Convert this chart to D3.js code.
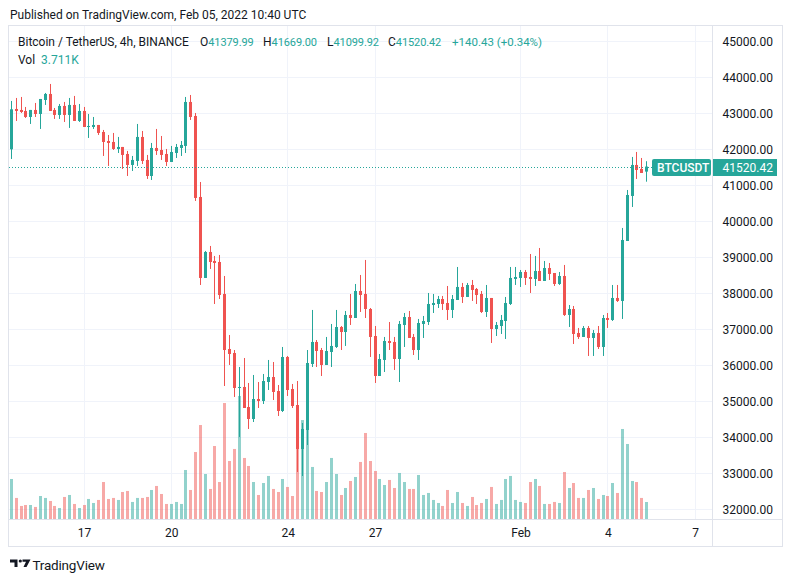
<!DOCTYPE html>
<html><head><meta charset="utf-8">
<script src="https://cdn.jsdelivr.net/npm/d3@7"></script>
<style>
html,body{margin:0;padding:0;background:#fff;}
svg{display:block;font-family:Roboto,"Noto Sans",sans-serif;}
</style></head><body>
<svg id="chart" width="793" height="582"></svg>
<script>
// ---- data (BTCUSDT 4h, Binance) ----
const startTime = "2022-01-14T12:00:00Z";
const open = [
42000,43120,43093,43065,42898,43093,42981,43370,43537,43093,
42954,43204,42954,43232,42787,43065,42620,42620,42676,42481,
42231,42204,42009,42065,41870,41565,41676,42343,41704,41259,
42037,41981,41870,41648,41898,42037,42093,43315,42926,40676,
38426,39148,38898,38870,37981,36453,36342,35370,35398,34842,
34509,35064,35009,35536,35675,35286,34731,36231,35342,34897,
33675,34203,36036,36648,36425,36009,36370,36509,37064,36925,
37398,37314,38064,37981,37564,36814,35703,36148,36675,36648,
36175,37120,37342,36787,36425,37148,37203,37675,37703,37842,
37731,37537,37814,38176,37898,38231,38120,37981,37481,37870,
37009,37092,37231,37703,38398,38426,38592,38453,38398,38620,
38342,38703,38564,38259,38481,37398,37564,36898,36787,37037,
36759,36898,36509,37314,37259,37870,37787,39453,40704,41565,
41454,41379.99];
const high = [
43343,43426,43454,43176,43093,43287,43398,43565,43815,43148,
43259,43315,43426,43482,43259,43176,42981,42898,42676,42537,
42398,42454,42343,42065,41954,41815,42704,42509,41843,42176,
42565,42370,42009,42093,42148,42231,43454,43509,43009,41092,
39176,39315,39037,39065,38481,36842,36425,35953,36203,35509,
35731,35536,35759,36148,36092,35453,36509,36259,35481,35564,
34397,36425,37537,36703,36481,36787,37148,37537,37092,37509,
37981,38259,38509,38926,37592,37092,36314,36787,37203,36787,
37231,37453,37509,36870,37287,37370,38009,37981,37926,37926,
38203,37953,38731,38287,38287,38370,38148,38064,38231,37870,
37203,37398,37898,38731,38731,38648,38648,39092,39037,39259,
38898,38842,38564,38592,38787,37675,37648,37037,37092,37092,
36981,37092,37398,37453,38231,38231,39815,40870,41787,41926,
41759,41669.00];
const low = [
41731,42787,43009,42870,42704,42898,42565,43232,43065,42843,
42843,42759,42593,42787,42759,42620,42315,42565,42398,41815,
41537,41981,41898,41454,41259,41398,41537,41592,41176,41148,
41843,41704,41537,41648,41759,41815,41898,42815,40565,38231,
38426,38676,37703,37842,35425,36009,35120,34009,34814,34231,
34425,34814,34925,35314,35036,34592,34703,35148,34814,33036,
32925,33786,35953,35953,35703,36009,35953,36481,36425,36537,
37120,37314,37481,37314,36231,35509,35703,35814,36425,35870,
35536,36509,36759,36286,36148,36759,37120,37453,37592,37537,
37259,37314,37814,37731,37898,37787,37703,37453,37342,36620,
36814,36870,36731,37675,38231,38176,38231,38009,38203,38342,
38342,38370,38203,38231,37370,37064,36592,36731,36787,36259,
36259,36453,36259,37037,37231,37759,37287,39453,40398,41176,
41342,41099.92];
const close = [
43111,43065,43037,42898,43093,42981,43398,43537,43065,42954,
43204,42954,43232,42787,43065,42620,42648,42676,42454,42204,
42176,42009,42065,41843,41565,41704,42343,41676,41259,42037,
41954,41843,41648,41926,42065,42120,43315,42898,40648,38426,
39148,38870,38842,37953,36425,36314,35370,35398,34814,34509,
35064,35009,35564,35675,35259,34731,36231,35314,34870,33675,
34231,36064,36648,36398,36009,36398,36537,37064,36925,37398,
37314,38064,37953,37564,36787,35703,36175,36675,36620,36175,
37148,37342,36759,36425,37175,37231,37703,37731,37842,37703,
37537,37842,38176,37898,38231,38092,37953,37481,37870,37009,
37120,37259,37731,38426,38453,38592,38426,38398,38620,38342,
38703,38537,38259,38481,37398,37564,36870,36787,37037,36759,
36898,36509,37314,37259,37870,37787,39481,40731,41565,41426,
41342,41520.42];
const volume = [
8.65,4.58,2.86,3.07,3.07,2.65,5.00,4.58,3.93,2.86,
2.43,4.79,5.22,3.29,2.43,3.07,4.36,3.50,4.15,8.00,
4.36,4.58,4.15,5.86,6.08,3.72,4.58,4.58,4.79,6.29,
7.15,5.43,3.29,3.29,3.72,3.29,10.58,6.29,14.44,20.23,
9.72,6.51,15.73,8.00,24.95,12.51,15.09,26.46,13.16,11.44,
8.00,5.22,7.79,9.30,6.51,5.86,8.65,6.94,5.00,15.09,
21.30,20.88,11.23,6.08,5.86,8.00,13.16,9.72,5.22,6.72,
8.22,9.08,12.30,18.52,12.51,10.37,8.65,7.36,8.44,6.72,
9.94,8.00,6.51,6.51,9.51,5.22,5.65,4.15,3.50,2.86,
6.29,3.50,5.86,3.50,2.86,4.79,3.07,3.50,4.36,6.94,
3.29,4.15,8.65,9.30,4.15,3.72,3.50,8.00,8.65,7.15,
3.29,3.29,3.72,3.50,10.15,6.72,7.79,4.58,4.58,6.29,
6.72,4.36,5.22,5.00,7.79,5.65,19.38,16.16,8.22,8.00,
4.58,3.711];
const timeTicks = ["2022-01-17T00:00:00Z","2022-01-20T00:00:00Z","2022-01-24T00:00:00Z","2022-01-27T00:00:00Z","2022-02-01T00:00:00Z","2022-02-04T00:00:00Z","2022-02-07T00:00:00Z"];
const timeTickLabels = ["17","20","24","27","Feb","4","7"];
const priceTicks = [32000,33000,34000,35000,36000,37000,38000,39000,40000,41000,42000,43000,44000,45000];
const publishedText = "Published on TradingView.com, Feb 05, 2022 10:40 UTC";
const titleText = "Bitcoin / TetherUS, 4h, BINANCE";
const symbolText = "BTCUSDT";
const changeText = "+140.43 (+0.34%)";
const volLabel = "3.711K";

// ---- drawing ----
const UP = "#26a69a", DOWN = "#ef5350";
const UPV = "rgba(38,166,154,0.5)", DOWNV = "rgba(239,83,80,0.5)";
const GRID = "#f0f3fa", BORDER = "#e0e3eb", TEXT = "#131722";
const svg = d3.select("#chart");
const H4 = 4 * 3600 * 1000;
const t0 = new Date(startTime).getTime();
const n = close.length;
const candles = close.map((c, i) => ({
  t: new Date(t0 + i * H4), o: open[i], h: high[i], l: low[i], c: c, v: volume[i]
}));

const plot = {left: 9, right: 712, top: 26, bottom: 519};
const x = d3.scaleTime().domain([new Date(t0), new Date(t0 + (n - 1) * H4)]).range([11.3, 646.65]);
const y = d3.scaleLinear().domain([32000, 45000]).range([509.3, 41.3]);
const yv = d3.scaleLinear().domain([0, 20]).range([519.3, 426.1]);

svg.append("defs").append("clipPath").attr("id", "clip")
  .append("rect").attr("x", plot.left).attr("y", plot.top)
  .attr("width", plot.right - plot.left).attr("height", plot.bottom - plot.top);

// publish line
svg.append("text").attr("x", 10).attr("y", 19).attr("font-size", 12).attr("fill", TEXT).text(publishedText);

// gridlines
const grid = svg.append("g").attr("clip-path", "url(#clip)").attr("shape-rendering", "crispEdges");
grid.selectAll("line.h").data(priceTicks).join("line")
  .attr("x1", plot.left).attr("x2", plot.right)
  .attr("y1", d => Math.round(y(d)) + 0.5).attr("y2", d => Math.round(y(d)) + 0.5)
  .attr("stroke", GRID);
const tickDates = timeTicks.map(s => new Date(s));
grid.selectAll("line.v").data(tickDates).join("line")
  .attr("x1", d => Math.floor(x(d)) + 0.5).attr("x2", d => Math.floor(x(d)) + 0.5)
  .attr("y1", plot.top).attr("y2", plot.bottom)
  .attr("stroke", GRID);

const gPlot = svg.append("g").attr("clip-path", "url(#clip)");
// volume
gPlot.selectAll("rect.vol").data(candles).join("rect")
  .attr("x", d => Math.floor(x(d.t)) - 1).attr("width", 3)
  .attr("y", d => yv(d.v)).attr("height", d => yv(0) - yv(d.v))
  .attr("fill", d => d.c >= d.o ? UPV : DOWNV);
// wicks
gPlot.selectAll("line.wick").data(candles).join("line")
  .attr("x1", d => Math.floor(x(d.t)) + 0.5).attr("x2", d => Math.floor(x(d.t)) + 0.5)
  .attr("y1", d => y(d.h)).attr("y2", d => y(d.l))
  .attr("stroke", d => d.c >= d.o ? UP : DOWN).attr("stroke-width", 1);
// bodies
gPlot.selectAll("rect.body").data(candles).join("rect")
  .attr("x", d => Math.floor(x(d.t)) - 1).attr("width", 3)
  .attr("y", d => y(Math.max(d.o, d.c)))
  .attr("height", d => Math.max(1, Math.abs(y(d.o) - y(d.c))))
  .attr("fill", d => d.c >= d.o ? UP : DOWN);

// last price dotted line
const last = candles[n - 1];
const yl = Math.round(y(last.c)) + 0.5;
svg.append("line").attr("x1", plot.left).attr("x2", 652).attr("y1", yl).attr("y2", yl)
  .attr("stroke", UP).attr("stroke-dasharray", "1,2").attr("shape-rendering", "crispEdges");

// frame and separators
svg.append("rect").attr("x", 8.5).attr("y", 25.5).attr("width", 774).attr("height", 521)
  .attr("fill", "none").attr("stroke", BORDER);
svg.append("line").attr("x1", 712.5).attr("x2", 712.5).attr("y1", 25.5).attr("y2", 546.5).attr("stroke", BORDER);
svg.append("line").attr("x1", 8.5).attr("x2", 782.5).attr("y1", 519.5).attr("y2", 519.5).attr("stroke", BORDER);

// price axis
const yAxis = d3.axisRight(y).tickValues(priceTicks).tickFormat(d3.format(".2f")).tickSize(0).tickPadding(10);
const gy = svg.append("g").attr("transform", "translate(712.5,0)").call(yAxis);
gy.select(".domain").remove();
gy.selectAll("text").attr("font-size", 12).attr("fill", TEXT).attr("font-family", "Roboto");

// time axis
const xAxis = d3.axisBottom(x).tickValues(tickDates).tickFormat((d, i) => timeTickLabels[i]).tickSize(0).tickPadding(8);
const gx = svg.append("g").attr("transform", "translate(0,520)").call(xAxis);
gx.select(".domain").remove();
gx.selectAll("text").attr("font-size", 12).attr("fill", TEXT).attr("font-family", "Roboto");

// last price labels
svg.append("rect").attr("x", 713).attr("y", yl - 8.5).attr("width", 64).attr("height", 17).attr("fill", UP);
svg.append("text").attr("x", 722.5).attr("y", yl).attr("dy", "0.35em").attr("font-size", 12)
  .attr("fill", "#fff").text(d3.format(".2f")(last.c));
svg.append("rect").attr("x", 652).attr("y", yl - 8.5).attr("width", 59).attr("height", 17).attr("rx", 2).attr("fill", UP);
svg.append("text").attr("x", 657).attr("y", yl).attr("dy", "0.35em").attr("font-size", 12)
  .attr("font-weight", 500).attr("fill", "#fff").text(symbolText);

// legend
const lg = svg.append("g").attr("font-size", 12);
lg.append("text").attr("x", 18).attr("y", 46).attr("fill", TEXT).text(titleText);
const f2 = d3.format(".2f");
const items = [["O", last.o, 200], ["H", last.h, 263], ["L", last.l, 327], ["C", last.c, 388]];
items.forEach(([k, v, px]) => {
  const t = lg.append("text").attr("x", px).attr("y", 46);
  t.append("tspan").attr("fill", TEXT).text(k);
  t.append("tspan").attr("fill", UP).attr("font-size", 11).attr("letter-spacing", "-0.1").text(f2(v));
});
lg.append("text").attr("x", 452).attr("y", 46).attr("fill", UP).attr("font-size", 11.5).text(changeText);
const vt = lg.append("text").attr("x", 18).attr("y", 64);
vt.append("tspan").attr("fill", TEXT).text("Vol");
vt.append("tspan").attr("x", 41).attr("fill", UP).text(volLabel);

// TradingView logo
const logo = svg.append("g").attr("fill", TEXT);
logo.append("path").attr("d", "M10,559.5 H17.5 V567 H14.5 V562.5 H10 Z");
logo.append("circle").attr("cx", 20.3).attr("cy", 561).attr("r", 1.6);
logo.append("path").attr("d", "M22.5,559.5 H30.5 L26.5,567 H23.5 L26,561.8 H22.5 Z");
svg.append("text").attr("x", 32.5).attr("y", 569.5).attr("font-size", 13.5).attr("fill", TEXT)
  .attr("letter-spacing", "-0.2").text("TradingView");
</script>
</body></html>
